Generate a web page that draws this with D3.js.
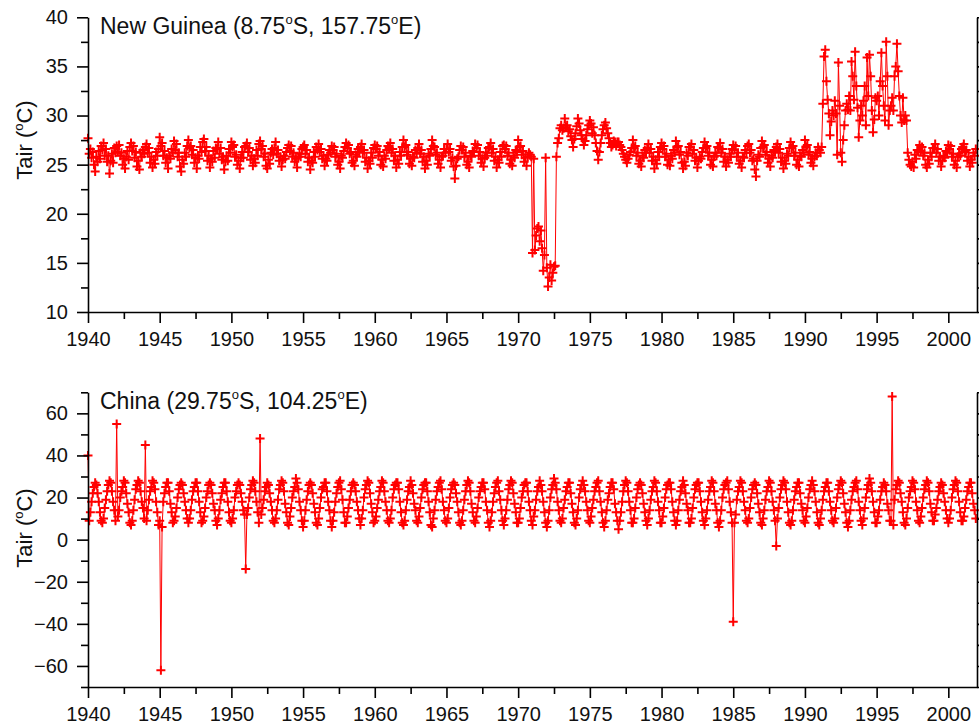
<!DOCTYPE html>
<html>
<head>
<meta charset="utf-8">
<script src="https://cdn.jsdelivr.net/npm/d3@7"></script>
<style>
body { margin: 0; background: #fff; }
svg { font-family: "Liberation Sans", Arial, sans-serif; }
</style>
</head>
<body>
<svg id="chart" width="979" height="727"></svg>
<script>
// monthly Tair, two grid cells, Jan 1940 .. Dec 2001

const startYear = 1940;
const xTicks = [1940, 1945, 1950, 1955, 1960, 1965, 1970, 1975, 1980, 1985, 1990, 1995, 2000];
const xMinor = [1942.5, 1947.5, 1952.5, 1957.5, 1962.5, 1967.5, 1972.5, 1977.5, 1982.5, 1987.5, 1992.5, 1997.5];
const ngTicks = [10, 15, 20, 25, 30, 35, 40];
const ngMinor = [12.5, 17.5, 22.5, 27.5, 32.5, 37.5];
const cnTicks = [-60, -40, -20, 0, 20, 40, 60];
const cnMinor = [-70, -50, -30, -10, 10, 30, 50, 70];

// New Guinea (8.75S, 157.75E), one row per year
const ngTair = [
  27.7, 26.1, 26.6, 25.7, 26.3, 25.0, 24.3, 25.8, 25.3, 26.4, 25.6, 26.9,
  26.5, 27.2, 25.9, 26.6, 25.3, 25.9, 24.1, 25.4, 26.1, 25.2, 26.7, 26.2,
  26.9, 26.3, 27.0, 25.9, 26.2, 25.0, 25.6, 24.6, 25.8, 26.4, 25.5, 26.8,
  27.2, 26.4, 26.9, 25.7, 26.3, 24.8, 25.4, 24.5, 26.2, 25.8, 26.5, 26.1,
  26.8, 27.1, 26.2, 26.7, 25.2, 25.8, 24.7, 25.5, 25.1, 26.3, 25.9, 26.6,
  27.8, 26.9, 27.2, 25.9, 26.4, 25.2, 25.7, 24.6, 25.9, 25.6, 26.6, 26.2,
  27.4, 26.5, 27.1, 25.8, 26.2, 24.8, 24.3, 25.5, 25.1, 26.2, 25.8, 26.9,
  27.5, 26.7, 26.9, 26.0, 26.5, 25.2, 25.7, 24.6, 25.9, 25.6, 26.8, 26.3,
  27.3, 27.6, 26.4, 26.8, 25.4, 25.9, 24.7, 25.6, 25.3, 26.4, 25.7, 26.7,
  26.6, 27.3, 26.1, 26.7, 25.5, 25.8, 24.5, 25.3, 25.9, 25.4, 26.6, 26.2,
  27.3, 26.8, 27.0, 25.8, 26.0, 25.0, 25.4, 24.6, 25.7, 26.3, 25.7, 26.8,
  26.9, 27.2, 26.3, 26.7, 25.5, 25.9, 24.9, 25.6, 25.2, 26.5, 25.9, 27.1,
  27.4, 26.6, 26.9, 25.8, 26.1, 24.9, 24.6, 25.5, 25.1, 26.2, 26.6, 26.0,
  26.7, 27.3, 26.1, 26.5, 25.4, 25.8, 24.8, 25.5, 25.9, 25.6, 26.3, 26.7,
  27.0, 26.4, 26.9, 25.8, 26.2, 25.3, 25.6, 24.7, 25.8, 26.1, 25.8, 26.6,
  26.8, 27.0, 26.1, 26.5, 25.3, 25.7, 24.5, 25.4, 25.2, 26.3, 25.8, 26.8,
  26.5, 27.1, 26.3, 26.6, 25.6, 25.9, 24.9, 25.6, 25.4, 26.0, 26.5, 26.2,
  26.9, 26.5, 26.8, 25.8, 26.1, 25.0, 25.3, 24.6, 25.9, 25.7, 26.4, 26.8,
  27.2, 26.7, 27.0, 26.1, 26.3, 25.2, 25.4, 24.9, 26.0, 25.8, 26.6, 26.3,
  26.8, 27.1, 26.2, 26.5, 25.3, 25.7, 24.6, 25.4, 25.1, 26.2, 25.7, 26.7,
  27.0, 26.6, 26.9, 25.9, 26.3, 25.0, 25.5, 24.8, 25.9, 25.6, 26.5, 26.9,
  26.7, 27.2, 26.2, 26.6, 25.4, 25.9, 24.7, 25.5, 25.1, 26.3, 25.9, 26.8,
  27.5, 26.8, 27.0, 26.0, 26.3, 25.1, 25.6, 24.9, 25.8, 25.7, 26.5, 26.2,
  26.7, 27.1, 26.1, 26.5, 25.3, 25.8, 24.6, 25.4, 25.0, 26.1, 25.9, 26.6,
  27.5, 26.9, 26.8, 26.0, 26.2, 25.1, 25.5, 24.7, 25.8, 25.9, 26.6, 26.2,
  26.6, 27.1, 26.3, 26.6, 25.4, 25.7, 24.8, 23.6, 24.9, 25.6, 25.8, 26.5,
  26.9, 26.5, 26.8, 25.8, 26.2, 25.0, 25.3, 24.7, 25.9, 25.8, 26.4, 26.3,
  27.1, 26.7, 27.0, 25.9, 26.3, 25.2, 25.6, 24.8, 25.7, 26.2, 25.9, 26.7,
  26.8, 27.2, 26.2, 26.6, 25.4, 25.8, 24.7, 25.5, 25.2, 26.3, 25.8, 26.9,
  27.0, 26.6, 26.9, 25.9, 26.2, 25.1, 25.5, 24.9, 25.9, 25.7, 26.5, 26.3,
  27.5, 26.8, 26.9, 26.0, 26.4, 25.3, 25.7, 24.9, 25.8, 26.2, 26.0, 25.8,
  16.0, 25.6, 16.3, 17.8, 18.5, 18.7, 17.2, 18.3, 16.5, 14.2, 15.8, 25.7,
  14.5, 12.6, 13.5, 14.8, 13.2, 14.0, 14.6, 14.7, 25.8, 27.2, 27.7, 28.7,
  29.0, 28.5, 28.7, 29.7, 28.8, 29.0, 28.4, 28.6, 27.9, 27.5, 26.8, 27.6,
  28.2, 28.9, 29.7, 29.2, 28.5, 28.0, 27.6, 27.0, 27.4, 28.0, 28.6, 29.0,
  29.5, 29.2, 28.2, 28.8, 28.0, 27.2, 26.4, 25.5, 26.3, 27.2, 28.0, 28.6,
  29.0, 29.3, 28.7, 28.2, 27.7, 27.2, 26.8, 27.0, 27.4, 27.3, 26.9, 27.3,
  27.3, 27.0, 26.8, 26.5, 26.1, 25.8, 25.5, 25.2, 25.6, 26.0, 26.3, 26.7,
  27.5, 26.7, 26.9, 25.9, 26.2, 25.1, 25.4, 24.8, 25.9, 25.7, 26.5, 26.2,
  26.7, 27.1, 26.2, 26.6, 25.4, 25.8, 24.6, 25.5, 25.1, 26.3, 25.8, 26.8,
  27.2, 26.6, 26.9, 25.8, 26.1, 25.0, 25.5, 24.9, 25.9, 25.6, 26.5, 26.2,
  27.4, 26.8, 26.9, 26.0, 26.3, 25.2, 24.6, 25.3, 24.9, 26.2, 25.9, 26.8,
  26.8, 27.1, 26.1, 26.5, 25.4, 25.7, 24.7, 25.4, 25.8, 25.6, 26.3, 26.7,
  27.3, 26.7, 26.9, 25.9, 26.2, 25.0, 25.5, 24.8, 25.8, 26.2, 25.9, 26.8,
  26.7, 27.2, 26.2, 26.6, 25.3, 25.8, 24.8, 25.5, 25.2, 26.1, 25.8, 26.6,
  27.0, 26.5, 26.9, 25.8, 26.2, 25.1, 25.4, 24.7, 25.8, 25.7, 26.5, 26.2,
  26.9, 27.1, 26.2, 26.5, 25.4, 25.6, 24.5, 23.8, 25.4, 26.0, 25.8, 26.7,
  27.4, 26.8, 27.0, 26.0, 26.3, 25.2, 25.6, 24.8, 25.9, 25.7, 26.5, 26.3,
  26.8, 27.1, 26.2, 26.6, 25.3, 25.7, 24.6, 25.4, 25.1, 26.1, 25.9, 26.7,
  27.3, 26.7, 26.9, 25.9, 26.2, 25.0, 25.5, 24.8, 25.9, 25.8, 26.5, 26.2,
  27.5, 26.8, 27.0, 26.0, 26.3, 25.2, 25.6, 24.9, 25.8, 26.2, 25.9, 26.8,
  26.5, 26.2, 26.8, 31.2, 36.0, 36.7, 33.5, 31.6, 30.2, 28.0, 29.4, 30.5,
  30.0, 31.5, 30.2, 26.0, 35.4, 31.0, 26.2, 25.3, 27.5, 29.0, 30.5, 31.2,
  30.6, 32.0, 30.5, 35.5, 34.0, 31.6, 36.5, 33.0, 30.8, 27.8, 29.5, 31.0,
  30.0, 31.5, 33.0, 29.0, 35.9, 32.0, 36.2, 34.0, 30.5, 28.3, 29.6, 31.8,
  31.5, 32.0, 30.0, 33.5, 36.4, 33.0, 31.0, 29.5, 37.5, 34.0, 29.0, 30.5,
  31.0, 31.8, 30.5, 34.0, 35.0, 37.3, 34.5, 32.0, 30.0, 29.3, 31.8, 29.5,
  30.0, 29.5, 26.2, 25.5, 25.0, 24.8, 25.3, 24.7, 26.0, 25.6, 26.5, 26.3,
  27.0, 26.4, 26.8, 25.9, 26.2, 25.0, 24.7, 25.5, 25.1, 26.2, 25.8, 26.7,
  26.7, 27.1, 26.2, 26.6, 25.4, 25.8, 24.8, 25.4, 25.9, 25.7, 26.4, 26.2,
  27.0, 26.6, 26.9, 25.8, 26.1, 25.0, 25.4, 24.7, 25.8, 26.1, 25.9, 26.6,
  26.8, 27.1, 26.3, 26.5, 25.4, 25.8, 24.8, 25.5, 25.2, 26.2, 25.9, 26.6
];

// China (29.75S, 104.25E), one row per year
const cnTair = [
  40, 9, 13, 18, 22, 25, 27, 26, 22, 18, 13, 9,
  8, 10, 15, 19, 23, 26, 28, 27, 23, 18, 14, 9,
  55, 11, 14, 20, 23, 25, 28, 27, 22, 17, 13, 8,
  7, 9, 14, 19, 24, 26, 28, 27, 23, 18, 15, 10,
  45, 9, 14, 19, 23, 25, 28, 27, 24, 18, 13, 7,
  9, -62, 6, 18, 22, 25, 27, 27, 23, 17, 13, 8,
  9, 11, 15, 20, 24, 26, 27, 26, 22, 18, 14, 10,
  8, 10, 14, 19, 23, 25, 27, 27, 23, 18, 13, 8,
  9, 11, 15, 20, 23, 26, 27, 26, 22, 17, 14, 9,
  7, 10, 14, 19, 22, 25, 27, 27, 23, 18, 13, 9,
  8, 10, 14, 20, 23, 26, 27, 26, 22, 18, 14, 12,
  -14, 12, 15, 20, 24, 26, 28, 27, 23, 18, 13, 8,
  48, 12, 15, 19, 23, 25, 27, 26, 22, 18, 14, 9,
  8, 10, 14, 19, 24, 26, 28, 27, 23, 17, 13, 8,
  7, 11, 15, 20, 23, 25, 29, 27, 24, 18, 14, 9,
  6, 9, 14, 19, 23, 26, 27, 26, 22, 17, 13, 8,
  7, 10, 15, 20, 24, 25, 27, 27, 23, 18, 14, 9,
  6, 9, 13, 18, 22, 25, 27, 28, 24, 19, 13, 8,
  8, 11, 15, 19, 23, 26, 27, 26, 23, 18, 14, 10,
  7, 10, 14, 20, 24, 26, 28, 27, 22, 17, 13, 8,
  9, 11, 15, 19, 23, 25, 28, 27, 23, 18, 14, 9,
  8, 10, 14, 20, 24, 26, 27, 27, 24, 18, 13, 8,
  7, 9, 14, 19, 23, 25, 28, 26, 22, 17, 14, 9,
  8, 11, 15, 20, 24, 26, 27, 27, 23, 18, 13, 7,
  6, 10, 14, 19, 23, 25, 27, 28, 24, 18, 14, 9,
  8, 10, 15, 20, 24, 26, 27, 26, 22, 18, 13, 8,
  7, 9, 14, 19, 23, 26, 28, 27, 23, 17, 13, 9,
  8, 11, 15, 20, 23, 25, 27, 27, 24, 18, 14, 8,
  6, 9, 13, 18, 22, 25, 27, 28, 23, 19, 14, 9,
  7, 10, 14, 19, 24, 26, 28, 27, 22, 17, 13, 8,
  8, 10, 15, 20, 23, 26, 27, 27, 23, 18, 14, 9,
  7, 11, 14, 19, 23, 25, 28, 26, 23, 18, 13, 8,
  6, 9, 14, 20, 24, 26, 29, 27, 24, 18, 14, 9,
  8, 10, 15, 19, 23, 25, 27, 27, 22, 17, 13, 8,
  7, 10, 14, 20, 24, 26, 28, 26, 23, 18, 14, 9,
  8, 11, 15, 19, 23, 25, 27, 28, 23, 18, 13, 8,
  6, 9, 14, 19, 22, 25, 27, 27, 24, 17, 13, 9,
  5, 9, 13, 18, 23, 26, 28, 27, 23, 18, 14, 8,
  8, 10, 15, 20, 24, 26, 27, 26, 22, 17, 13, 9,
  7, 10, 14, 19, 23, 25, 28, 27, 23, 18, 14, 8,
  8, 11, 15, 20, 24, 26, 27, 27, 24, 18, 13, 9,
  7, 9, 14, 19, 23, 25, 28, 26, 22, 17, 14, 8,
  8, 10, 15, 20, 24, 26, 27, 27, 23, 18, 13, 9,
  7, 10, 14, 19, 23, 25, 28, 27, 23, 17, 14, 8,
  6, 9, 14, 20, 24, 26, 27, 28, 24, 18, 13, 8,
  -39, 8, 12, 19, 23, 25, 28, 27, 23, 18, 14, 9,
  8, 10, 15, 20, 24, 26, 27, 26, 22, 17, 13, 8,
  7, 10, 14, 19, 23, 25, 28, 27, 23, 18, 14, 9,
  -3, 10, 15, 20, 24, 26, 28, 27, 24, 18, 13, 8,
  7, 9, 14, 19, 23, 25, 27, 27, 22, 17, 14, 9,
  8, 11, 15, 20, 24, 26, 28, 26, 23, 18, 13, 8,
  7, 10, 14, 19, 23, 25, 27, 27, 23, 18, 14, 9,
  8, 10, 15, 20, 24, 26, 28, 27, 22, 17, 13, 8,
  6, 9, 14, 19, 23, 25, 27, 28, 24, 18, 14, 9,
  7, 10, 15, 20, 24, 26, 29, 27, 23, 18, 13, 8,
  8, 11, 14, 19, 23, 25, 27, 26, 23, 17, 14, 9,
  9, 68, 7, 19, 24, 26, 28, 27, 22, 18, 13, 8,
  7, 10, 15, 20, 23, 25, 28, 27, 24, 18, 14, 9,
  8, 11, 15, 20, 24, 26, 28, 27, 23, 17, 13, 9,
  9, 12, 15, 19, 23, 25, 27, 26, 22, 18, 14, 10,
  8, 10, 14, 20, 24, 26, 28, 27, 23, 18, 13, 9,
  9, 11, 15, 19, 23, 25, 27, 27, 22, 17, 14, 10
];

const margin = {left: 88, right: 977};
const red = "#ff0000";

class TairPanel {

  constructor(svg, top, bottom, yDomain, yTicks, yMinor, labelY, place, lat, lon, values) {
    this.svg = svg;
    this.top = top;
    this.bottom = bottom;
    this.yTicks = yTicks;
    this.yMinor = yMinor;
    this.labelY = labelY;
    this.place = place;
    this.lat = lat;
    this.lon = lon;
    this.values = values;

    this.x = d3.scaleLinear().domain([1940, 2002]).range([margin.left, margin.right]);
    this.y = d3.scaleLinear().domain(yDomain).range([bottom, top]);

    this.draw();
  }

  draw() {
    const g = this.svg.append("g");
    const x = this.x, y = this.y;

    const pts = this.values.map((v, i) => ({t: startYear + i / 12, v: v}));

    // data line and + markers
    g.append("path")
      .datum(pts)
      .attr("fill", "none")
      .attr("stroke", red)
      .attr("stroke-width", 1)
      .attr("d", d3.line().x(d => x(d.t)).y(d => y(d.v)));

    g.selectAll(".mark")
      .data(pts)
      .join("path")
      .attr("class", "mark")
      .attr("transform", d => "translate(" + x(d.t) + "," + y(d.v) + ")")
      .attr("d", "M-4.5,0H4.5M0,-4.5V4.5")
      .attr("stroke", red)
      .attr("stroke-width", 2);

    // axes
    g.append("g")
      .attr("transform", "translate(0," + this.bottom + ")")
      .call(d3.axisBottom(x).tickValues(xTicks).tickSize(11).tickSizeOuter(0)
        .tickPadding(9).tickFormat(d3.format("d")));
    g.append("g")
      .attr("transform", "translate(0," + this.bottom + ")")
      .call(d3.axisBottom(x).tickValues(xMinor).tickSize(7).tickFormat(""))
      .select(".domain").remove();

    g.append("g")
      .attr("transform", "translate(" + margin.left + ",0)")
      .call(d3.axisLeft(y).tickValues(this.yTicks).tickSize(11).tickSizeOuter(0).tickPadding(9));
    g.append("g")
      .attr("transform", "translate(" + margin.left + ",0)")
      .call(d3.axisLeft(y).tickValues(this.yMinor).tickSize(7).tickFormat(""))
      .select(".domain").remove();

    g.append("g")
      .attr("transform", "translate(" + margin.right + ",0)")
      .call(d3.axisRight(y).tickValues(this.yTicks.concat(this.yMinor)).tickSize(5)
        .tickSizeOuter(0).tickFormat(""));

    g.selectAll(".domain, .tick line").attr("stroke", "#000").attr("stroke-width", 1.6);
    g.selectAll(".tick text").attr("font-size", "20px").attr("fill", "#111")
      .attr("font-family", "'Liberation Sans', Arial, sans-serif");

    // y label with raised o
    const yl = g.append("text")
      .attr("transform", "translate(32," + this.labelY + ") rotate(-90)")
      .attr("text-anchor", "middle")
      .attr("font-size", "22px")
      .attr("fill", "#111");
    yl.append("tspan").text("Tair (");
    yl.append("tspan").attr("font-size", "13px").attr("dy", -9).text("o");
    yl.append("tspan").attr("dy", 9).text("C)");

    // panel title
    const tt = g.append("text")
      .attr("x", 100)
      .attr("y", this.top + 17)
      .attr("font-size", "23px")
      .attr("fill", "#111");
    tt.append("tspan").text(this.place + " (" + this.lat);
    tt.append("tspan").attr("font-size", "13px").attr("dy", -10).text("o");
    tt.append("tspan").attr("dy", 10).text("S, " + this.lon);
    tt.append("tspan").attr("font-size", "13px").attr("dy", -10).text("o");
    tt.append("tspan").attr("dy", 10).text("E)");
  }

}

const svg = d3.select("#chart");
new TairPanel(svg, 17.3, 312, [10, 40], ngTicks, ngMinor, 140, "New Guinea", "8.75", "157.75", ngTair);
new TairPanel(svg, 392.3, 687, [-70, 70], cnTicks, cnMinor, 528, "China", "29.75", "104.25", cnTair);
</script>
</body>
</html>
